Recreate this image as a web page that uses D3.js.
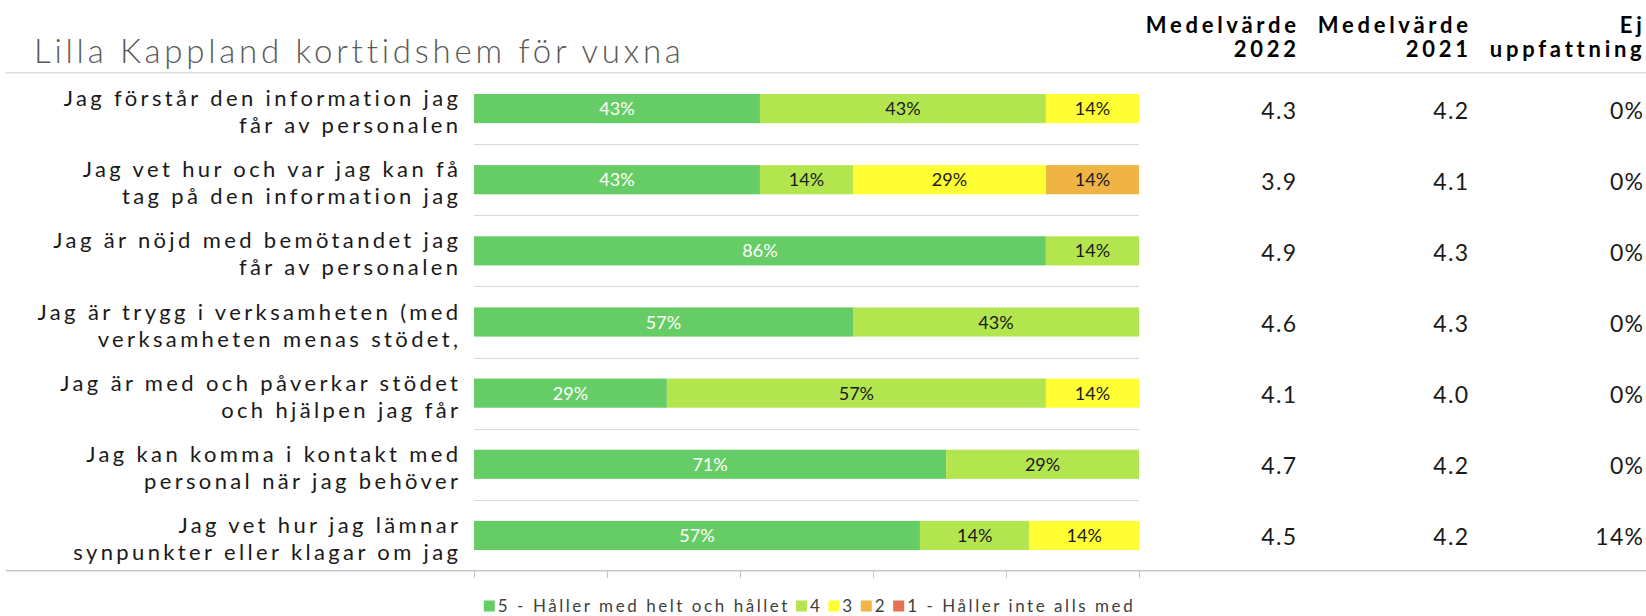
<!DOCTYPE html>
<html><head><meta charset="utf-8">
<script src="https://cdn.jsdelivr.net/npm/d3@7"></script>
<style>html,body{margin:0;padding:0;background:#fff}svg{display:block}</style>
</head><body>
<svg id="chart" width="1646" height="616"></svg>
<script>
// ---------- data ----------
const chartTitle = "Lilla Kappland korttidshem för vuxna";
const categories = [
  ["Jag förstår den information jag", "får av personalen"],
  ["Jag vet hur och var jag kan få", "tag på den information jag"],
  ["Jag är nöjd med bemötandet jag", "får av personalen"],
  ["Jag är trygg i verksamheten (med", "verksamheten menas stödet,"],
  ["Jag är med och påverkar stödet", "och hjälpen jag får"],
  ["Jag kan komma i kontakt med", "personal när jag behöver"],
  ["Jag vet hur jag lämnar", "synpunkter eller klagar om jag"]
];
const seriesNames = ["5 - Håller med helt och hållet", "4", "3", "2", "1 - Håller inte alls med"];
const s5 = [43, 43, 86, 57, 29, 71, 57];
const s4 = [43, 14, 14, 43, 57, 29, 14];
const s3 = [14, 29, 0, 0, 14, 0, 14];
const s2 = [0, 14, 0, 0, 0, 0, 0];
const s1 = [0, 0, 0, 0, 0, 0, 0];
const mean2022 = ["4.3", "3.9", "4.9", "4.6", "4.1", "4.7", "4.5"];
const mean2021 = ["4.2", "4.1", "4.3", "4.3", "4.0", "4.2", "4.2"];
const ejUppfattning = ["0%", "0%", "0%", "0%", "0%", "0%", "14%"];
const columnHeaders = [["Medelvärde", "2022"], ["Medelvärde", "2021"], ["Ej", "uppfattning"]];
const xTickValues = [0, 0.2, 0.4, 0.6, 0.8, 1];
const seriesColors = ["#66cd66", "#b3e64e", "#ffff33", "#f0b444", "#e66f55"];

// ---------- layout ----------
const W = 1646, H = 616;
const FONT = "Lato, 'Open Sans', sans-serif";
const plotLeft = 474, plotRight = 1139, plotTop = 73, plotBottom = 571;
const labelRight = 458;
const colRight = [1296, 1468, 1643];

const svg = d3.select("#chart");

function spacingFor(sample, size, weight, target) {
  const t = svg.append("text").attr("font-family", FONT).attr("font-size", size)
    .attr("font-weight", weight).text(sample);
  const w = t.node().getComputedTextLength();
  t.remove();
  return (target - w) / sample.length;
}

const keys = ["s5", "s4", "s3", "s2", "s1"];
const rows = categories.map((c, i) => ({ i, s5: s5[i], s4: s4[i], s3: s3[i], s2: s2[i], s1: s1[i] }));
const stacked = d3.stack().keys(keys).offset(d3.stackOffsetExpand)(rows);

const x = d3.scaleLinear().domain([0, 1]).range([plotLeft, plotRight]);
const y = d3.scaleBand().domain(d3.range(categories.length)).range([plotTop, plotBottom])
  .paddingInner(0.59).paddingOuter(0.295);
const color = d3.scaleOrdinal().domain(keys).range(seriesColors);

// title
const titleLS = spacingFor(chartTitle, 33, 300, 650);
svg.append("text").attr("x", 34).attr("y", 63).attr("font-family", FONT).attr("font-size", 33)
  .attr("font-weight", 300).attr("fill", "#595959").style("letter-spacing", titleLS + "px").text(chartTitle);

// header separator
svg.append("line").attr("x1", 6).attr("x2", W).attr("y1", 72.5).attr("y2", 72.5).attr("stroke", "#d9d9d9");
svg.append("line").attr("x1", 6).attr("x2", W).attr("y1", 73.5).attr("y2", 73.5).attr("stroke", "#f0f0f0");

// column headers
const headLS = spacingFor("Medelvärde", 22, 700, 154);
columnHeaders.forEach((h, j) => {
  h.forEach((line, k) => {
    const xr = Math.min(colRight[j] + headLS, W - 0.5);
    svg.append("text").attr("x", xr).attr("y", 33 + k * 24)
      .attr("text-anchor", "end").attr("font-family", FONT).attr("font-size", 22)
      .attr("font-weight", 700).attr("fill", "#000").style("letter-spacing", headLS + "px").text(line);
  });
});

// row separators
const step = y.step();
d3.range(1, categories.length).forEach(i => {
  const yy = Math.round(plotTop + step * i) + 0.5;
  svg.append("line").attr("x1", plotLeft).attr("x2", plotRight).attr("y1", yy).attr("y2", yy)
    .attr("stroke", "#d9d9d9");
});

// bars
const g = svg.append("g");
stacked.forEach(layer => {
  g.selectAll(null).data(layer.filter(d => d.data[layer.key] > 0)).join("rect")
    .attr("x", d => x(d[0])).attr("width", d => x(d[1]) - x(d[0]))
    .attr("y", d => y(d.data.i)).attr("height", y.bandwidth())
    .attr("fill", color(layer.key));
  g.selectAll(null).data(layer.filter(d => d.data[layer.key] > 0)).join("text")
    .attr("x", d => (x(d[0]) + x(d[1])) / 2).attr("y", d => y(d.data.i) + y.bandwidth() / 2 + 6.5)
    .attr("text-anchor", "middle").attr("font-family", FONT).attr("font-size", 18)
    .attr("fill", layer.key === "s5" ? "#ffffff" : "#1a1a1a")
    .text(d => d.data[layer.key] + "%");
});

// category labels
const labLS = spacingFor("Jag förstår den information jag", 22, 400, 398);
categories.forEach((lines, i) => {
  const cy = y(i) + y.bandwidth() / 2;
  lines.forEach((line, k) => {
    svg.append("text").attr("x", labelRight + labLS).attr("y", cy - 2.5 + k * 27)
      .attr("text-anchor", "end").attr("font-family", FONT).attr("font-size", 22)
      .attr("fill", "#1a1a1a").style("letter-spacing", labLS + "px").text(line);
  });
});

// value columns
const valLS = spacingFor("4.3", 23, 400, 36);
[mean2022, mean2021, ejUppfattning].forEach((col, j) => {
  col.forEach((v, i) => {
    const cy = y(i) + y.bandwidth() / 2;
    svg.append("text").attr("x", Math.min(colRight[j] + valLS, W - 0.5)).attr("y", cy + 10)
      .attr("text-anchor", "end").attr("font-family", FONT).attr("font-size", 23)
      .attr("fill", "#1a1a1a").style("letter-spacing", valLS + "px").text(v);
  });
});

// bottom axis
svg.append("line").attr("x1", 6).attr("x2", W).attr("y1", plotBottom - 0.5).attr("y2", plotBottom - 0.5).attr("stroke", "#c4c4c4");
svg.append("line").attr("x1", 6).attr("x2", W).attr("y1", plotBottom + 0.5).attr("y2", plotBottom + 0.5).attr("stroke", "#e6e6e6");
const axis = svg.append("g").attr("transform", `translate(0,${plotBottom})`)
  .call(d3.axisBottom(x).tickValues(xTickValues).tickFormat("").tickSize(7).tickSizeOuter(0));
axis.select(".domain").remove();
axis.selectAll(".tick line").attr("stroke", "#c4c4c4");

// legend
const legLS = spacingFor("1 - Håller inte alls med", 17, 400, 228);
const leg = svg.append("g");
let lx = 0;
seriesNames.forEach((name, k) => {
  leg.append("rect").attr("x", lx).attr("y", -6).attr("width", 11).attr("height", 11).attr("fill", seriesColors[k]);
  const t = leg.append("text").attr("x", lx + 14).attr("y", 5.5).attr("font-family", FONT).attr("font-size", 17)
    .attr("fill", "#404040").style("letter-spacing", legLS + "px").text(name);
  lx += 14 + t.node().getComputedTextLength() + 6;
});
const legW = lx - 6;
leg.attr("transform", `translate(${(481 + 1138) / 2 - legW / 2},606.5)`);
</script>
</body></html>
